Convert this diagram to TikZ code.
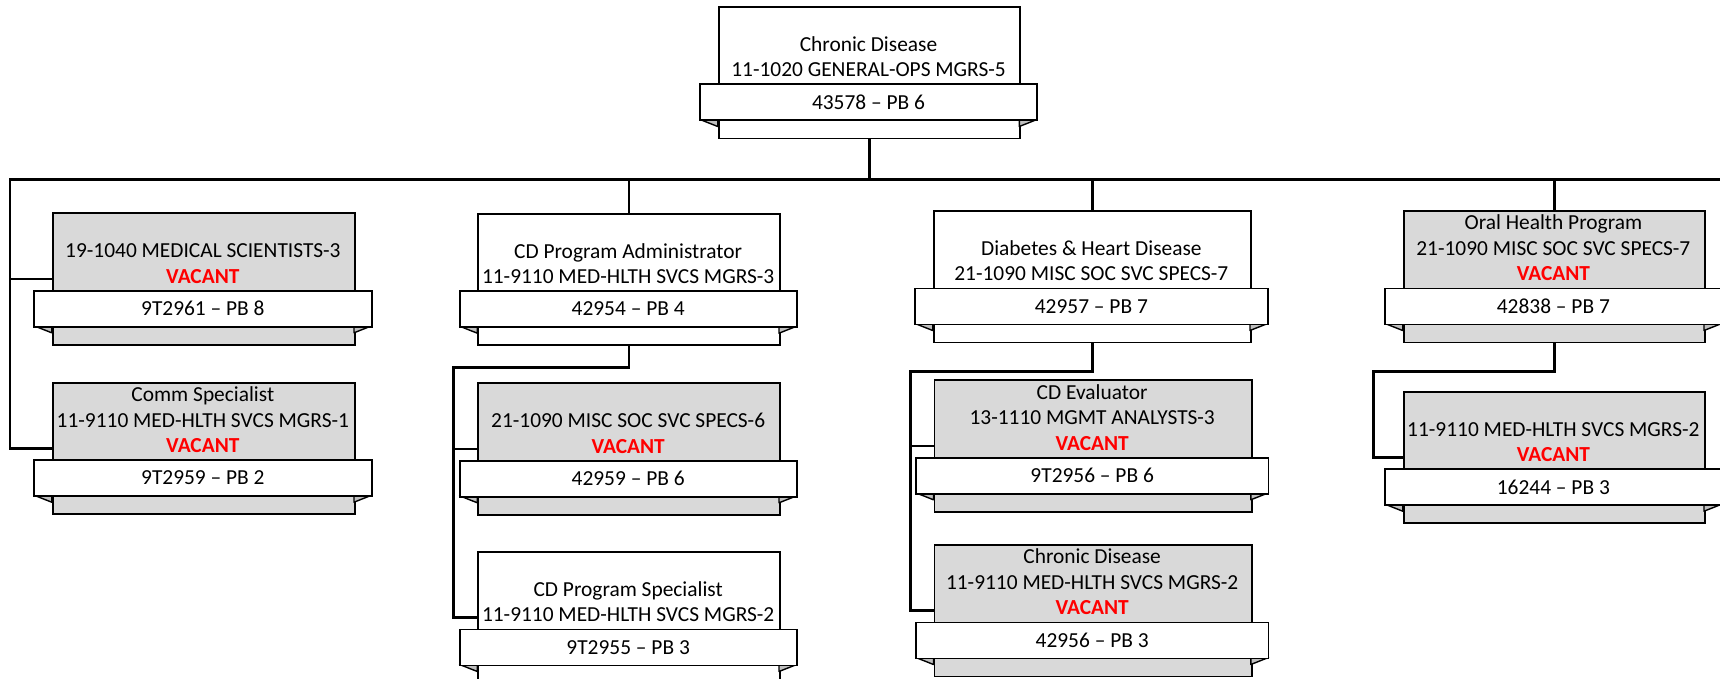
\documentclass[tikz,border=0pt]{standalone}
\usepackage{fontspec}
\setmainfont{Carlito}
\usetikzlibrary{calc}
\definecolor{boxgrey}{HTML}{D9D9D9}
\definecolor{foldgrey}{HTML}{BFBFBF}
\definecolor{vacred}{HTML}{FF0000}
\tikzset{
  conn/.style={line width=2.8pt, line join=miter},
  posrect/.style={draw, line width=1.8pt, anchor=north west, inner sep=0pt, minimum height=131.6pt},
  banner/.style={draw, fill=white, line width=1.8pt, anchor=north, inner sep=0pt, minimum height=36pt, font=\fontsize{21.4}{25.5}\selectfont},
  postext/.style={align=center, anchor=south, inner sep=0pt, text depth=0pt, font=\fontsize{21.4}{25.5}\selectfont},
  fold/.style={draw, line width=1.4pt, fill=foldgrey, line join=round},
}
\newcommand\vac{\textcolor{vacred}{\bfseries VACANT}}
\newcommand\posbox[7]{% name, left, top, width, fill, text, banner
  \node[posrect, fill=#5, minimum width=#4pt] (#1) at (#2,#3) {};
  \pgfmathsetmacro\pbx{#2+#4/2}
  \pgfmathsetmacro\pby{#3+77.5}
  \pgfmathsetmacro\pbw{#4+35.4}
  \pgfmathsetmacro\pfy{#3+77.5+36}
  \pgfmathsetmacro\pfl{#2-17.7}
  \pgfmathsetmacro\pfr{#2+#4+17.7}
  \pgfmathsetmacro\prr{#2+#4}
  \pgfmathsetmacro\pty{#3+71}
  \draw[fold] (\pfl,\pfy) -- (#2,\pfy+7) -- (#2,\pfy) -- cycle;
  \draw[fold] (\pfr,\pfy) -- (\prr,\pfy+7) -- (\prr,\pfy) -- cycle;
  \node[postext] (#1t) at (\pbx,\pty) {#6};
  \node[banner, minimum width=\pbw pt] (#1b) at (\pbx,\pby) {#7};
}
\begin{document}
\begin{tikzpicture}[x=1pt,y=-1pt]
\useasboundingbox (0,0) rectangle (1720,679);
\clip (0,0) rectangle (1720,679);
\posbox{top}{717.7}{6}{301.6}{white}{Chronic Disease\\11-1020 GENERAL-OPS MGRS-5}{43578 – PB 6}
\posbox{c1a}{51.7}{212.3}{302.3}{boxgrey}{19-1040 MEDICAL SCIENTISTS-3\\\vac}{9T2961 – PB 8}
\posbox{c1b}{51.7}{381.7}{302.3}{boxgrey}{Comm Specialist\\11-9110 MED-HLTH SVCS MGRS-1\\\vac}{9T2959 – PB 2}
\posbox{c2a}{477.3}{212.7}{301.7}{white}{CD Program Administrator\\11-9110 MED-HLTH SVCS MGRS-3}{42954 – PB 4}
\posbox{c2b}{477.3}{382.3}{301.7}{boxgrey}{21-1090 MISC SOC SVC SPECS-6\\\vac}{42959 – PB 6}
\posbox{c2c}{477.3}{551}{301.7}{white}{CD Program Specialist\\11-9110 MED-HLTH SVCS MGRS-2}{9T2955 – PB 3}
\posbox{c3a}{932.7}{210}{317.3}{white}{Diabetes \& Heart Disease\\21-1090 MISC SOC SVC SPECS-7}{42957 – PB 7}
\posbox{c3b}{933.5}{379.3}{317.3}{boxgrey}{CD Evaluator\\13-1110 MGMT ANALYSTS-3\\\vac}{9T2956 – PB 6}
\posbox{c3c}{933.5}{544}{317.3}{boxgrey}{Chronic Disease\\11-9110 MED-HLTH SVCS MGRS-2\\\vac}{42956 – PB 3}
\posbox{c4a}{1402.7}{210}{301.3}{boxgrey}{Oral Health Program\\21-1090 MISC SOC SVC SPECS-7\\\vac}{42838 – PB 7}
\posbox{c4b}{1402.7}{390.7}{301.3}{boxgrey}{11-9110 MED-HLTH SVCS MGRS-2\\\vac}{16244 – PB 3}
% connectors
\coordinate (busL) at (10,179.5);
\coordinate (busR) at (1722,179.5);
\coordinate (e2) at (453.3,367.3);
\coordinate (e3) at (910.7,371.7);
\coordinate (e4) at (1373.3,371.7);
\draw[conn] (top.south) -- (top.south |- busL);
\draw[conn] (busR) -- (busL) |- (c1b.west);
\draw[conn] (busL) |- (c1a.west);
\draw[conn] (c2a.north) -- (c2a.north |- busL);
\draw[conn] (c3a.north) -- (c3a.north |- busL);
\draw[conn] (c4a.north) -- (c4a.north |- busL);
\draw[conn] (c2a.south) |- (e2) |- (c2c.west);
\draw[conn] (e2) |- (c2b.west);
\draw[conn] (c3a.south) |- (e3) |- (c3c.west);
\draw[conn] (e3) |- (c3b.west);
\draw[conn] (c4a.south) |- (e4) |- (c4b.west);
\end{tikzpicture}
\end{document}
